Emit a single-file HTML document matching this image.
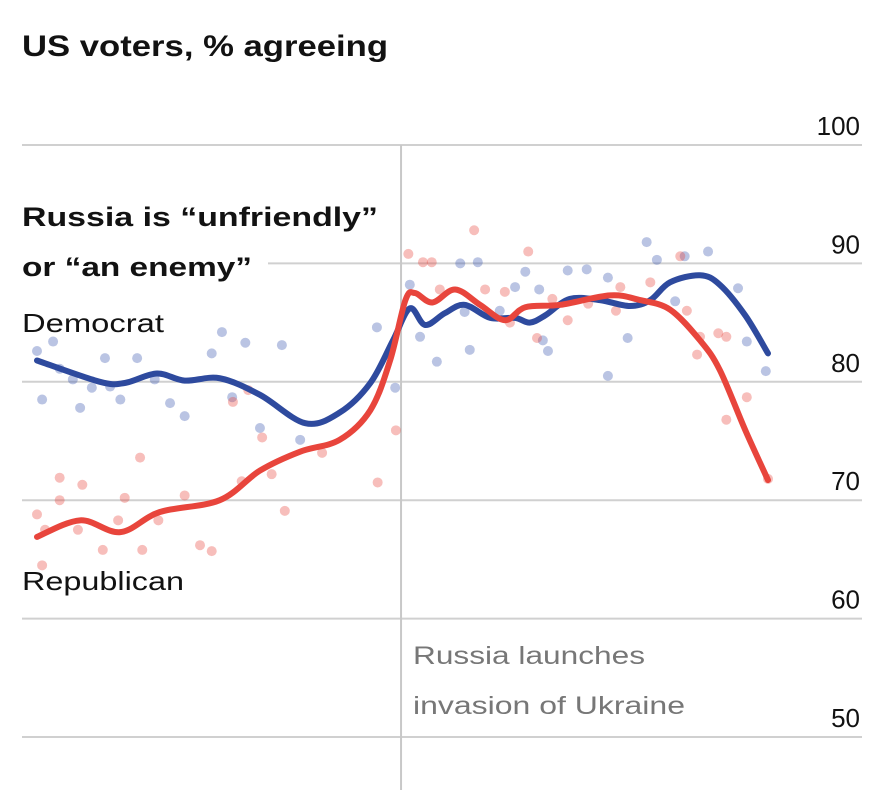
<!DOCTYPE html>
<html><head><meta charset="utf-8"><style>
body{margin:0;background:#fff;}
svg{display:block;font-family:"Liberation Sans",sans-serif;}
</style></head><body>
<svg id="chart" width="884" height="790" viewBox="0 0 884 790">
<g id="grid"></g>
<g id="dots"></g>
<g id="lines"></g>
<text x="22" y="56" font-size="30" font-weight="bold" fill="#121212" textLength="366" lengthAdjust="spacingAndGlyphs">US voters, % agreeing</text>
<rect x="20" y="240" width="248" height="40" fill="#fff"/>
<text x="22" y="226" font-size="27" font-weight="bold" fill="#121212" textLength="356" lengthAdjust="spacingAndGlyphs">Russia is “unfriendly”</text>
<text x="22" y="276" font-size="27" font-weight="bold" fill="#121212" textLength="230" lengthAdjust="spacingAndGlyphs">or “an enemy”</text>
<text x="22" y="332" font-size="26" fill="#121212" textLength="142" lengthAdjust="spacingAndGlyphs">Democrat</text>
<text x="22" y="590" font-size="26" fill="#121212" textLength="162" lengthAdjust="spacingAndGlyphs">Republican</text>
<text x="413" y="664" font-size="25" fill="#777" textLength="232" lengthAdjust="spacingAndGlyphs">Russia launches</text>
<text x="413" y="714" font-size="25" fill="#777" textLength="272" lengthAdjust="spacingAndGlyphs">invasion of Ukraine</text>
</svg>
<script>
const yTicks=[100,90,80,70,60,50];
const invasionT=49.8;
const demLineT=[0,8.6,12,16.4,20.2,25,30.5,36.7,41.4,45.6,48.7,51,53.1,55.8,58.5,62,65.4,67.4,69.5,72.9,77,81.1,83.9,86.6,90.7,93.4,96.9,100];
const demLineV=[81.8,80,79.9,80.7,80.1,80.3,78.9,76.5,77.4,79.9,83.5,86.2,84.8,85.8,86.5,85.4,85.4,85,85.6,87,86.9,86.4,86.9,88.4,89,88.2,85.6,82.4];
const repLineT=[0,5.9,11.4,16.8,25,30.5,36,41.4,45.6,48.3,50.4,51.7,54.1,57.2,60.6,64,66.8,71.6,78.4,82.5,86.6,90.7,93.4,96.9,100];
const repLineV=[66.9,68.3,67.3,69,70,72.5,74.1,75.1,77.6,81.8,86.9,87.5,86.7,87.8,86.5,85.2,86.3,86.5,87.3,86.9,86.1,83.5,81,75.9,71.7];
const demDotT=[0,2.2,3.1,0.7,4.9,5.9,7.5,9.3,10,11.4,13.7,16.1,18.2,20.2,23.9,25.3,26.7,28.5,30.5,33.5,36,46.5,49,51,52.4,54.7,57.9,60.3,58.5,59.2,63.3,65.4,66.8,68.7,69.2,69.9,72.6,75.2,78.1,78.1,80.8,83.4,84.8,87.3,88.6,91.8,95.9,97.1,99.7];
const demDotV=[82.6,83.4,81.1,78.5,80.2,77.8,79.5,82,79.6,78.5,82,80.2,78.2,77.1,82.4,84.2,78.7,83.3,76.1,83.1,75.1,84.6,79.5,88.2,83.8,81.7,90,90.1,85.9,82.7,86,88,89.3,87.8,83.5,82.6,89.4,89.5,88.8,80.5,83.7,91.8,90.3,86.8,90.6,91,87.9,83.4,80.9];
const repDotT=[0,1.1,0.7,3.1,3.1,6.2,5.6,9,11.1,12,14.4,14.1,16.6,20.2,22.3,23.9,26.8,28,28.9,30.8,32.1,33.9,39,46.6,49.1,50.8,52.8,54,55.1,59.8,61.3,64,64.7,68.4,67.2,70.5,72.6,75.4,79.8,79.2,83.9,88,88.9,90.7,93.2,94.3,90.3,94.3,97.1,100];
const repDotV=[68.8,67.5,64.5,71.9,70,71.3,67.5,65.8,68.3,70.2,65.8,73.6,68.3,70.4,66.2,65.7,78.3,71.6,79.3,75.3,72.2,69.1,74,71.5,75.9,90.8,90.1,90.1,87.8,92.8,87.8,87.6,85,83.7,91,87,85.2,86.6,88,86,88.4,90.6,86,83.8,84.1,83.8,82.3,76.8,78.7,71.8];
const NS='http://www.w3.org/2000/svg';
const xS=t=>37+t*7.31;
const yS=v=>145+(100-v)*11.84;
const grid=document.getElementById('grid'),svg=document.getElementById('chart');
yTicks.forEach(v=>{
  const l=document.createElementNS(NS,'line');
  l.setAttribute('x1',22);l.setAttribute('x2',862);l.setAttribute('y1',yS(v));l.setAttribute('y2',yS(v));
  l.setAttribute('stroke','#d0d0d0');l.setAttribute('stroke-width',2);
  
  
  grid.appendChild(l);
  const t=document.createElementNS(NS,'text');
  t.setAttribute('x',860);t.setAttribute('y',yS(v)-10);t.setAttribute('text-anchor','end');
  t.setAttribute('font-size',26);t.setAttribute('fill','#121212');t.textContent=v;
  
  
  svg.appendChild(t);
});
const vl=document.createElementNS(NS,'line');
vl.setAttribute('x1',xS(invasionT));vl.setAttribute('x2',xS(invasionT));vl.setAttribute('y1',145);vl.setAttribute('y2',790);
vl.setAttribute('stroke','#c8c8c8');vl.setAttribute('stroke-width',2);


grid.appendChild(vl);
const dots=document.getElementById('dots');
function addDots(T,V,col,name){T.forEach((t,i)=>{
  const c=document.createElementNS(NS,'circle');
  c.setAttribute('cx',xS(t));c.setAttribute('cy',yS(V[i]));c.setAttribute('r',5);
  c.setAttribute('fill',col);c.setAttribute('fill-opacity',0.35);
  
  
  dots.appendChild(c);});}
addDots(demDotT,demDotV,'#3a55b0','democrat-poll-dot');
addDots(repDotT,repDotV,'#e8453c','republican-poll-dot');
function pathD(T,V){const p=T.map((t,i)=>[xS(t),yS(V[i])]);let d='M'+p[0][0]+','+p[0][1];
  for(let i=0;i<p.length-1;i++){const p0=p[i-1]||p[i],p1=p[i],p2=p[i+1],p3=p[i+2]||p2;
    d+=' C'+(p1[0]+(p2[0]-p0[0])/6)+','+(p1[1]+(p2[1]-p0[1])/6)+' '+(p2[0]-(p3[0]-p1[0])/6)+','+(p2[1]-(p3[1]-p1[1])/6)+' '+p2[0]+','+p2[1];}
  return d;}
const lines=document.getElementById('lines');
function addLine(T,V,col,name){const p=document.createElementNS(NS,'path');
  p.setAttribute('d',pathD(T,V));p.setAttribute('fill','none');p.setAttribute('stroke',col);
  p.setAttribute('stroke-width',6);p.setAttribute('stroke-linecap','round');p.setAttribute('stroke-linejoin','round');
  
  
  lines.appendChild(p);}
addLine(demLineT,demLineV,'#2e4a9e','democrat-trend-line');
addLine(repLineT,repLineV,'#e8453c','republican-trend-line');
</script>
</body></html>
